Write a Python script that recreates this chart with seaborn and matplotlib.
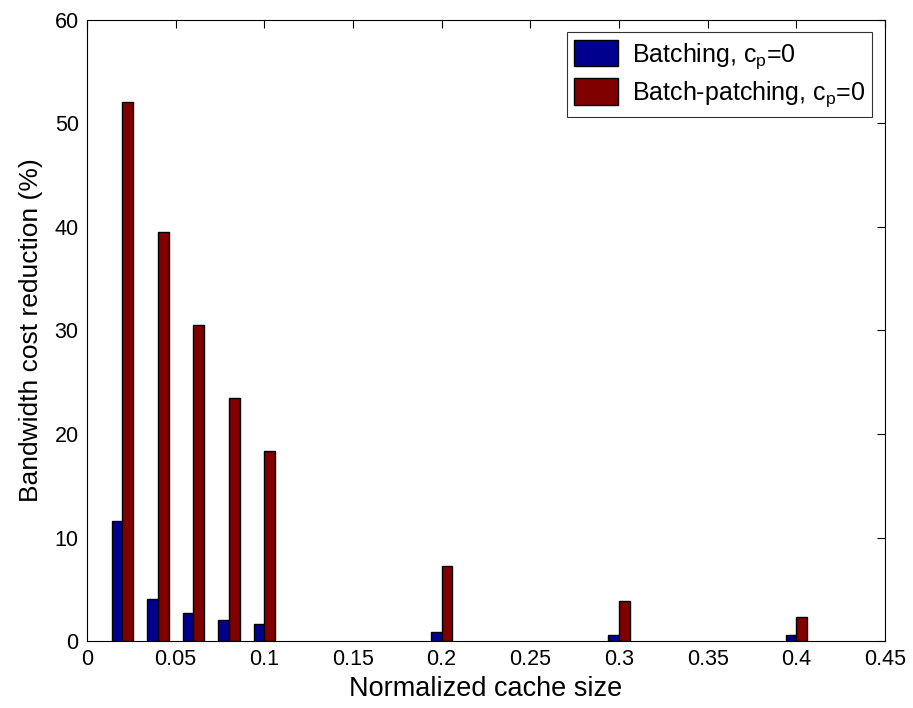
import matplotlib
matplotlib.use("Agg")
import matplotlib.pyplot as plt
import seaborn as sns
import pandas as pd

cache_sizes = [0.02, 0.04, 0.06, 0.08, 0.1, 0.2, 0.3, 0.4]
batching = [11.6, 4.05, 2.7, 2.0, 1.6, 0.9, 0.55, 0.55]
batch_patching = [52.1, 39.5, 30.5, 23.5, 18.4, 7.2, 3.9, 2.3]
series_names = ["Batching, c$_\\mathregular{p}$=0", "Batch-patching, c$_\\mathregular{p}$=0"]
x_ticks = [0, 0.05, 0.1, 0.15, 0.2, 0.25, 0.3, 0.35, 0.4, 0.45]
x_ticklabels = ["0", "0.05", "0.1", "0.15", "0.2", "0.25", "0.3", "0.35", "0.4", "0.45"]
y_ticks = [0, 10, 20, 30, 40, 50, 60]

df = pd.DataFrame({
    "x": cache_sizes * 2,
    "y": batching + batch_patching,
    "series": [series_names[0]] * len(cache_sizes) + [series_names[1]] * len(cache_sizes),
})

sns.set_style("white")
plt.rcParams["font.family"] = ["Liberation Sans", "DejaVu Sans"]
plt.rcParams["mathtext.fontset"] = "custom"
plt.rcParams["mathtext.rm"] = "Liberation Sans"
plt.rcParams["mathtext.it"] = "Liberation Sans"
plt.rcParams["text.color"] = "black"
plt.rcParams["axes.labelcolor"] = "black"

fig = plt.figure(figsize=(9.13, 7.08), dpi=100)
ax = fig.add_axes([0.0953, 0.0946, 0.874, 0.8772])

sns.barplot(data=df, x="x", y="y", hue="series", native_scale=True, width=0.6,
            palette=["#00008F", "#800000"], edgecolor="black", linewidth=1.0,
            saturation=1, ax=ax, errorbar=None)

ax.set_xlim(0, 0.45)
ax.set_ylim(0, 60)
ax.set_xticks(x_ticks)
ax.set_xticklabels(x_ticklabels)
ax.set_yticks(y_ticks)
ax.tick_params(direction="in", length=6, width=0.8, top=True, right=True,
               labelsize=15.5, colors="black", pad=6)
for s in ax.spines.values():
    s.set_color("black")
    s.set_linewidth(0.8)
ax.set_xlabel("Normalized cache size", fontsize=19.5, labelpad=4)
ax.set_ylabel("Bandwidth cost reduction (%)", fontsize=19, labelpad=8)

leg = ax.legend(loc="upper right", fontsize=18, frameon=True, fancybox=False,
                edgecolor="black", borderaxespad=0.5, handlelength=1.75,
                handleheight=1.25, labelspacing=0.3, handletextpad=0.55,
                borderpad=0.3, title=None)
leg.get_frame().set_linewidth(0.8)

fig.savefig("out.png", dpi=100)
